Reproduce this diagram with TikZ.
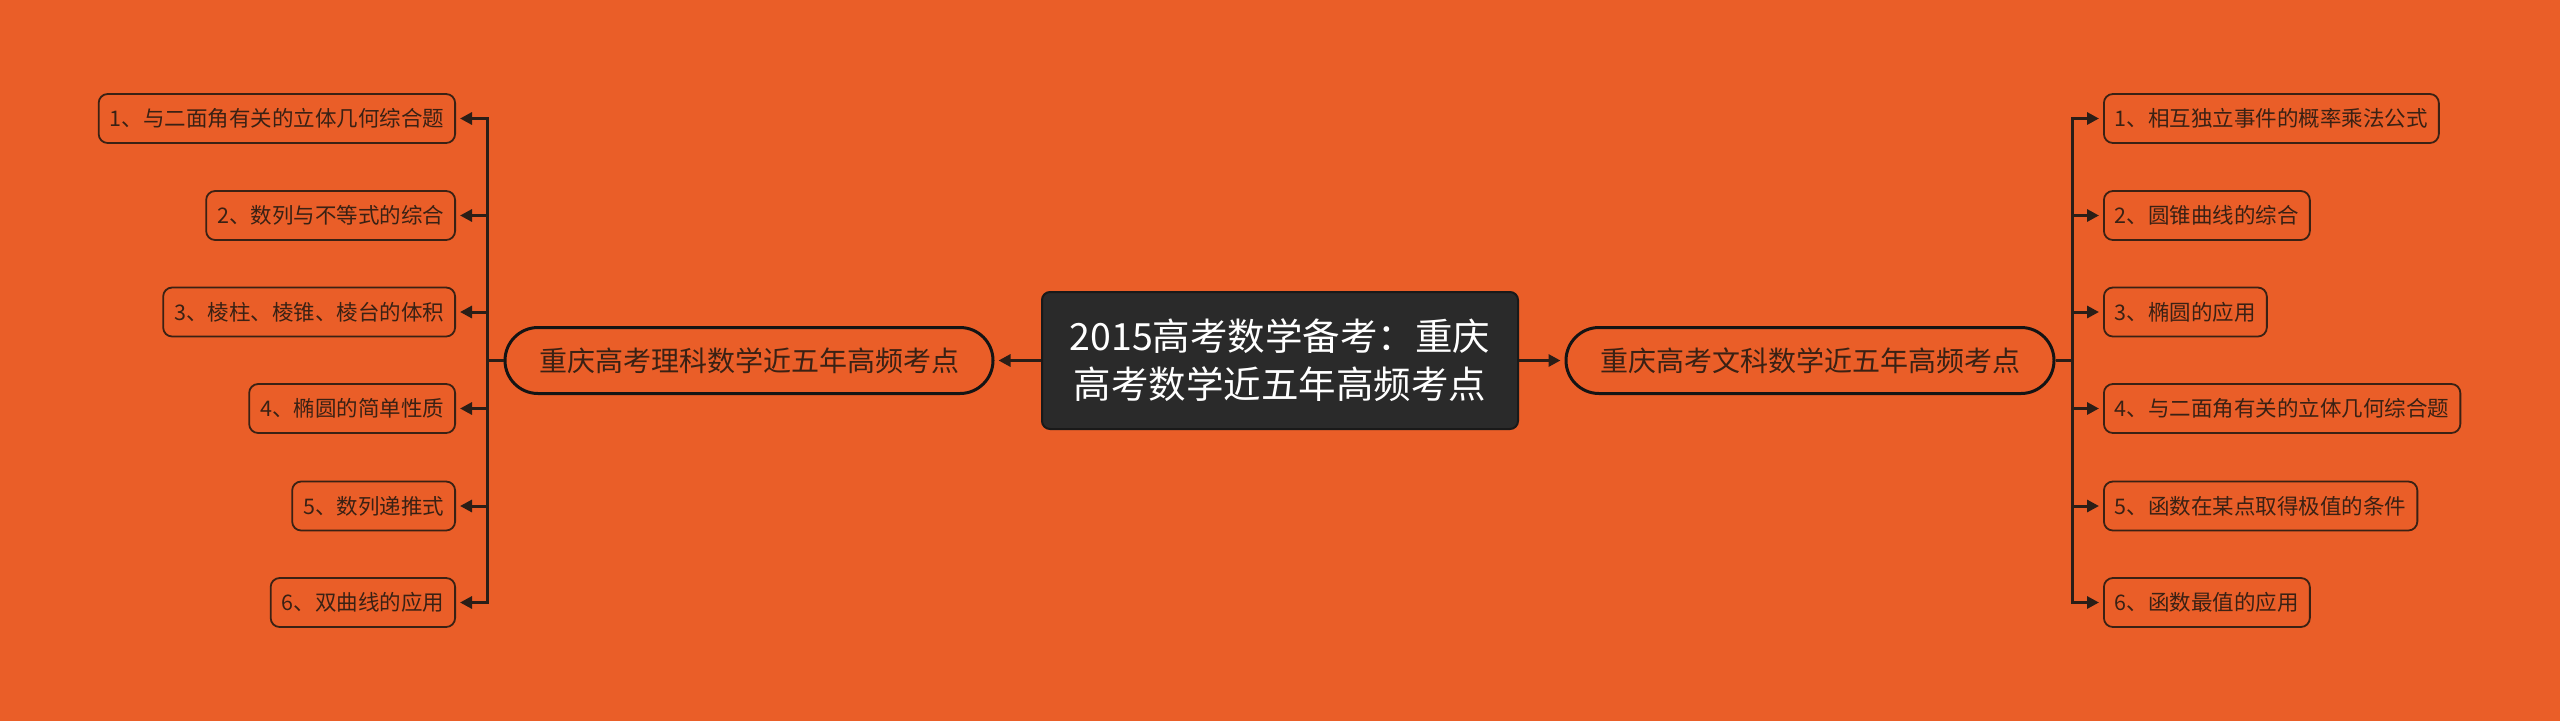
\documentclass[tikz,border=0pt]{standalone}
\usepackage{fontspec}
\setmainfont{Noto Sans CJK SC}
\usetikzlibrary{arrows.meta}
\definecolor{bg}{HTML}{EA5E28}
\definecolor{cfill}{HTML}{2A2A2A}
\definecolor{ink}{HTML}{3A2114}
\definecolor{wire}{HTML}{2B1E17}
\begin{document}
\begin{tikzpicture}[x=1pt,y=-1pt,
  rootbox/.style={draw=black!90, fill=cfill, rounded corners=8pt, line width=2pt,
    minimum width=476pt, minimum height=137pt, inner sep=0pt, align=center,
    text=white, font=\fontsize{37.5}{48}\selectfont},
  branchbox/.style={draw=black!92, line width=3pt, rounded corners=33pt,
    minimum width=488pt, minimum height=66pt, inner sep=0pt, text=ink,
    font=\fontsize{28}{32}\selectfont},
  leafbox/.style={draw=ink, line width=1.8pt, rounded corners=9pt,
    minimum height=49pt, inner xsep=11pt, inner ysep=0pt, text=ink,
    font=\fontsize{21.5}{26}\selectfont},
  leafL/.style={leafbox, anchor=east},
  leafR/.style={leafbox, anchor=west},
  arr/.style={draw=wire, line width=3pt, -{Triangle[length=12pt,width=12pt]}, shorten >=4pt},
]
\fill[bg] (0,0) rectangle (2560,721);
\useasboundingbox (0,0) rectangle (2560,721);

\node[rootbox] (c) at (1280,360.5) {2015高考数学备考：重庆\\高考数学近五年高频考点};
\node[branchbox] (lb) at (749,360.5) {重庆高考理科数学近五年高频考点};
\node[branchbox] (rb) at (1810,360.5) {重庆高考文科数学近五年高频考点};

\draw[arr] (c.west) -- (lb.east);
\draw[arr] (c.east) -- (rb.west);

\coordinate (jl) at (487,360.5);
\coordinate (jr) at (2072,360.5);

\node[leafL] (l1) at (456,118.5) {1、与二面角有关的立体几何综合题};
\node[leafL] (l2) at (456,215.5) {2、数列与不等式的综合};
\node[leafL] (l3) at (456,312)   {3、棱柱、棱锥、棱台的体积};
\node[leafL] (l4) at (456,408.5) {4、椭圆的简单性质};
\node[leafL] (l5) at (456,506)   {5、数列递推式};
\node[leafL] (l6) at (456,602.5) {6、双曲线的应用};

\node[leafR] (r1) at (2103,118.5) {1、相互独立事件的概率乘法公式};
\node[leafR] (r2) at (2103,215.5) {2、圆锥曲线的综合};
\node[leafR] (r3) at (2103,312)   {3、椭圆的应用};
\node[leafR] (r4) at (2103,408.5) {4、与二面角有关的立体几何综合题};
\node[leafR] (r5) at (2103,506)   {5、函数在某点取得极值的条件};
\node[leafR] (r6) at (2103,602.5) {6、函数最值的应用};

\foreach \n in {l1,l2,l3,l4,l5,l6}
  \draw[arr] (lb.west) -- (jl) |- (\n.east);
\foreach \n in {r1,r2,r3,r4,r5,r6}
  \draw[arr] (rb.east) -- (jr) |- (\n.west);
\end{tikzpicture}
\end{document}
